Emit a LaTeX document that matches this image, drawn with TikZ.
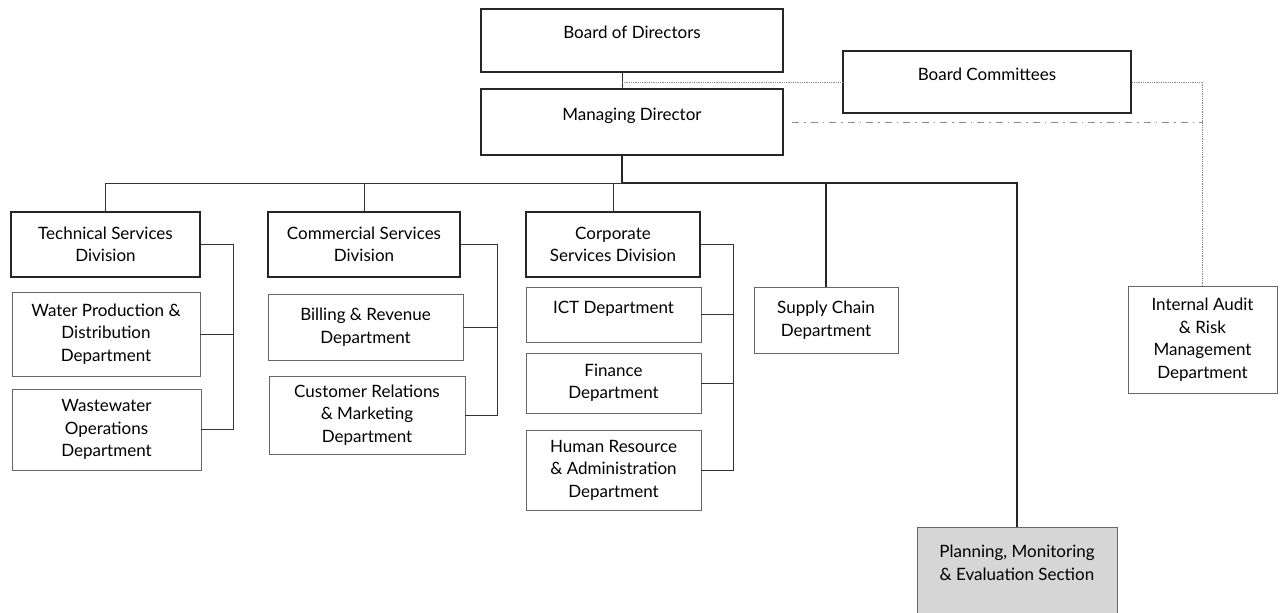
\documentclass[tikz,border=0pt]{standalone}
\usepackage{fontspec}
\setmainfont{Lato}
\usepackage{tikz}

\tikzset{
  topbox/.style={draw=black!85, line width=2.2pt, fill=white, align=center},
  divbox/.style={draw=black!85, line width=1.8pt, align=center},
  deptbox/.style={draw=black!60, line width=0.9pt, align=center},
  link/.style={draw=black!80, line width=1pt},
  trunkline/.style={draw=black!85, line width=2pt},
  boardlink/.style={draw=black!45, line width=0.8pt, densely dotted},
}

\begin{document}
\begin{tikzpicture}[x=1pt,y=-1pt,font=\fontsize{17}{22.5}\selectfont]
\useasboundingbox[fill=white] (0,0) rectangle (1280,613);

\node[topbox, minimum width=302, minimum height=63, text depth=16pt] (bod) at (632,40.5) {Board of Directors};
\node[topbox, minimum width=302, minimum height=66, text depth=16pt] (md) at (632,122) {Managing Director};
\node[topbox, minimum width=288, minimum height=62, text depth=16pt] (bc) at (987,82) {Board Committees};

\node[divbox, minimum width=189, minimum height=65] (tech) at (105.5,244.5) {Technical Services\\Division};
\node[deptbox, minimum width=188, minimum height=84] (water) at (106,334) {Water Production \&\\Distribution\\Department};
\node[deptbox, minimum width=189, minimum height=81] (waste) at (106.5,429.5) {Wastewater\\Operations\\Department};

\node[divbox, minimum width=192, minimum height=65] (comm) at (364,244.5) {Commercial Services\\Division};
\node[deptbox, minimum width=195, minimum height=66] (billing) at (365.5,327) {Billing \& Revenue\\Department};
\node[deptbox, minimum width=196, minimum height=78] (cust) at (367,415) {Customer Relations\\\& Marketing\\Department};

\node[divbox, minimum width=174, minimum height=65] (corp) at (613,244.5) {Corporate\\Services Division};
\node[deptbox, minimum width=175, minimum height=55, text depth=14pt] (ict) at (613.5,314.5) {ICT Department};
\node[deptbox, minimum width=175, minimum height=60] (fin) at (613.5,383) {Finance\\Department};
\node[deptbox, minimum width=175, minimum height=80] (hr) at (613.5,470) {Human Resource\\\& Administration\\Department};

\node[deptbox, minimum width=144, minimum height=66] (supply) at (826,320) {Supply Chain\\Department};
\node[deptbox, minimum width=149, minimum height=107] (audit) at (1202.5,339.5) {Internal Audit\\\& Risk\\Management\\Department};
\node[deptbox, fill=black!16, minimum width=200, minimum height=95, text depth=24pt, anchor=north] (plan) at (1017,527) {Planning, Monitoring\\\& Evaluation Section};

\coordinate (trunk) at (622,183);
\coordinate (techbar) at (233,0);
\coordinate (commbar) at (497,0);
\coordinate (corpbar) at (733,0);

\draw[link] (bod.south -| trunk) -- (md.north -| trunk);
\draw[boardlink] (trunk |- bc.west) -- (bc.west);
\draw[boardlink] (bc.east) -| (audit.north);
\draw[boardlink, dash pattern=on 7pt off 5pt on 1.5pt off 5pt] ([xshift=8pt]md.east) -- (audit.north |- md.east);

\draw[trunkline] (md.south -| trunk) -- (trunk) -| (plan.north);
\draw[link] (trunk) -| (tech.north);
\draw[link] (comm.north) -- (comm.north |- trunk);
\draw[link] (corp.north) -- (corp.north |- trunk);
\draw[trunkline] (supply.north) -- (supply.north |- trunk);

\draw[link] (tech.east) -- (tech.east -| techbar) -- (waste.east -| techbar) -- (waste.east);
\draw[link] (water.east) -- (water.east -| techbar);
\draw[link] (comm.east) -- (comm.east -| commbar) -- (cust.east -| commbar) -- (cust.east);
\draw[link] (billing.east) -- (billing.east -| commbar);
\draw[link] (corp.east) -- (corp.east -| corpbar) -- (hr.east -| corpbar) -- (hr.east);
\foreach \d in {ict,fin}{
	\draw[link] (\d.east) -- (\d.east -| corpbar);
}
\end{tikzpicture}
\end{document}
